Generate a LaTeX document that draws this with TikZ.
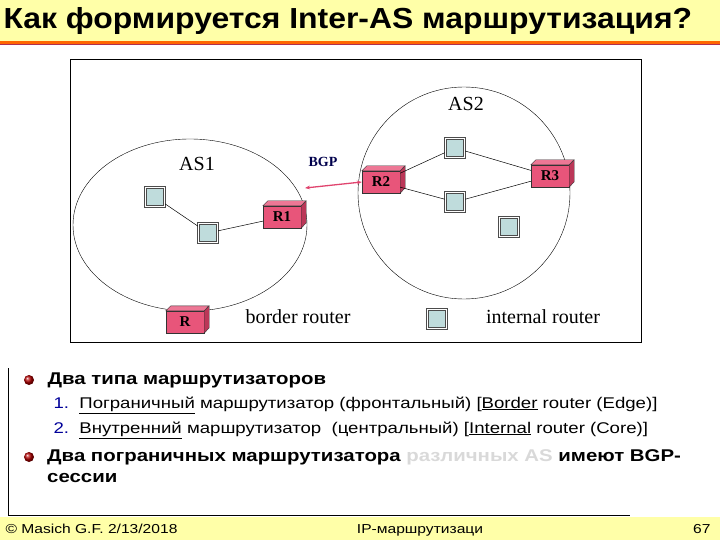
\documentclass[tikz,border=0pt]{standalone}
\usepackage{fontspec}
\setmainfont{Liberation Serif}
\newfontfamily\arial[FakeStretch=1.2]{Liberation Sans}
\newfontfamily\arialt[FakeStretch=1.1]{Liberation Sans}
\usetikzlibrary{arrows.meta}
\definecolor{rpink}{HTML}{E8557A}
\definecolor{rdark}{HTML}{B03050}
\definecolor{ibox}{HTML}{BFDCDC}
\definecolor{yel}{HTML}{FFFFA8}
\tikzset{
 irouter/.style={draw=black!70,line width=1.4pt,fill=ibox,minimum size=19pt,inner sep=0pt,double=white,double distance=0.4pt},
 brouter/.style={draw=black!80,fill=rpink,minimum width=38pt,minimum height=22pt,inner sep=0pt,font=\fontsize{15}{16}\selectfont\bfseries},
 lnk/.style={draw=black,line width=0.5pt},
 lab/.style={font=\fontsize{20}{21}\selectfont}
}
\newcommand{\bbox}[3]{%
 \node[brouter] (#1) at #2 {#3};
 \fill[rdark!80!rpink,draw=black!80] (#1.north east) -- ++(5,-5) -- ++(0,22) -- (#1.south east) -- cycle;
 \fill[rpink!80!white,draw=black!80] (#1.north west) -- ++(5,-5) -- ++(38,0) -- (#1.north east) -- cycle;
}
\begin{document}
\begin{tikzpicture}[x=1pt,y=-1pt]
\useasboundingbox (0,0) rectangle (720,540);
\fill[yel] (0,0) rectangle (720,41);
\fill[orange!80!red] (0,41) rectangle (720,45);
\draw[rdark,line width=0.6pt] (0,44) -- (720,44);
\node[anchor=west,font=\arialt\bfseries\fontsize{29}{30}\selectfont] (title) at (0,21) {Как формируется Inter-AS маршрутизация?};
\draw[line width=1pt] (70,60) rectangle (641,342);
% ellipses
\draw (190,225) ellipse (117 and 86);
\draw (464,193) circle (106);
\node[lab] (as1) at (197,164) {AS1};
\node[lab] (as2) at (466,104) {AS2};
% internal routers
\node[irouter] (a1) at (155,197) {};
\node[irouter] (a2) at (208,233) {};
\node[irouter] (b1) at (455,148) {};
\node[irouter] (b2) at (455,202) {};
\node[irouter] (b3) at (509,227) {};
\bbox{r1}{(282,217)}{R1}
\bbox{r2}{(381,182)}{R2}
\bbox{r3}{(550,176)}{R3}
\draw[lnk] (a1) -- (a2); \draw[lnk] (a2) -- (r1);
\draw[lnk] (r2) -- (b1); \draw[lnk] (r2) -- (b2);
\draw[lnk] (b1) -- (r3); \draw[lnk] (b2) -- (r3);
\draw[rpink!80!purple,line width=1.3pt,{Stealth[length=5pt]}-{Stealth[length=5pt]}] (305,188) -- (r2.west);
\node[font=\fontsize{14}{15}\selectfont\bfseries,text=blue!30!black] (bgp) at (323,162) {BGP};
% legend
\bbox{lr}{(185,322)}{R}
\node[lab] (lb) at (298,317) {border router};
\node[irouter] (li) at (437,319) {};
\node[lab] (ll) at (543,317) {internal router};
% text box
\draw (8,368) -- (8,515) -- (630,515);
\shade[ball color=red!70!black] (29,380) circle (5pt);
\node[anchor=west,font=\arial\bfseries\fontsize{17}{19}\selectfont] (t1) at (44,380) {Два типа маршрутизаторов};
\node[anchor=west,font=\arial\fontsize{15.5}{17}\selectfont] (t2) at (50,405) {\textcolor{blue!60!black}{1.}\ \ \underline{Пограничный} маршрутизатор (фронтальный) [\underline{Border} router (Edge)]};
\node[anchor=west,font=\arial\fontsize{15.5}{17}\selectfont] (t3) at (50,430) {\textcolor{blue!60!black}{2.}\ \ \underline{Внутренний} маршрутизатор\ \ (центральный) [\underline{Internal} router (Core)]};
\shade[ball color=red!70!black] (29,457) circle (5pt);
\node[anchor=north west,font=\arial\bfseries\fontsize{17}{21}\selectfont,align=left,inner sep=0pt] (t4) at (47,449) {Два пограничных маршрутизатора \textcolor{black!15}{различных AS} имеют BGP-\\сессии};
\fill[yel] (0,517) rectangle (720,540);
\node[anchor=west,font=\arial\fontsize{13}{14}\selectfont] (f1) at (2,529) {© Masich G.F. 2/13/2018};
\node[font=\arial\fontsize{13}{14}\selectfont] (f2) at (420,530) {IP-маршрутизаци};
\node[anchor=east,font=\arial\fontsize{13}{14}\selectfont] (f3) at (714,529) {67};
\end{tikzpicture}
\end{document}
